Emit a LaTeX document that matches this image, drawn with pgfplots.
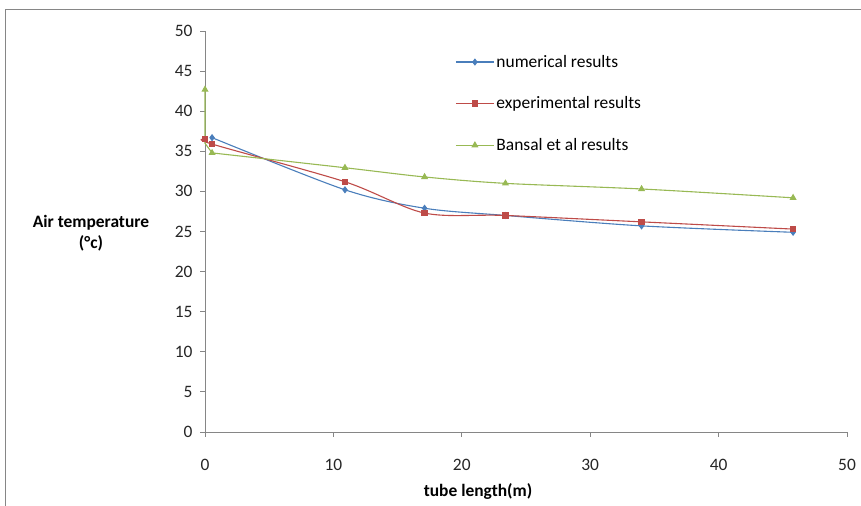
\documentclass[border=0pt]{standalone}
\usepackage{fontspec}
\setmainfont{Carlito}
\usepackage{pgfplots}
\pgfplotsset{compat=1.18}
\definecolor{cblue}{HTML}{4A7EBB}
\definecolor{cred}{HTML}{BE4B48}
\definecolor{cgreen}{HTML}{98B954}
\definecolor{cax}{HTML}{868686}
\begin{document}
\begin{tikzpicture}[x=1bp,y=1bp]
\useasboundingbox (0,0) rectangle (861,506);
\draw[cax,line width=1bp] (5,-20) -- (5,496) -- (880,496);
\begin{axis}[
  at={(205bp,74bp)}, anchor=south west,
  scale only axis, width=642bp, height=401bp,
  xmin=0, xmax=50, ymin=0, ymax=50,
  xtick={0,10,...,50}, ytick={0,5,...,50},
  axis x line*=bottom, axis y line*=left,
  axis line style={cax, line width=0.8bp, -},
  tick style={cax, line width=0.8bp},
  tick align=outside, major tick length=5bp,
  /pgf/number format/assume math mode=true,
  tick label style={font=\fontsize{17.5}{20}\selectfont, text=black!85},
  xticklabel style={yshift=-19bp},
  yticklabel style={xshift=-4bp},
  legend style={at={(0.385,0.95)}, anchor=north west, draw=none, fill=none,
    font=\fontsize{17.5}{20}\selectfont, row sep=24bp, cells={anchor=west}},
  legend image code/.code={
    \draw[#1] (0bp,0bp) -- (38bp,0bp);
    \draw[#1, only marks] plot coordinates {(19bp,0bp)};
  },
  every axis plot/.append style={line width=1.1bp},
  clip=false,
]
\addplot[cblue, mark=diamond*, mark size=2.8bp, smooth, tension=0.5] coordinates {
 (0.55,36.7) (10.9,30.2) (17.1,27.9) (23.4,27.0) (34.0,25.7) (45.8,24.9)};
\addlegendentry{numerical results}
\addplot[cred, mark=square*, mark size=2.6bp, smooth, tension=0.5] coordinates {
 (0,36.5) (0.55,35.9) (10.9,31.2) (17.1,27.3) (23.4,27.0) (34.0,26.2) (45.8,25.3)};
\addlegendentry{experimental results}
\addplot[cgreen, mark=triangle*, mark size=3bp, smooth, tension=0.5] coordinates {
 (0.55,34.8) (10.9,32.95) (17.1,31.8) (23.4,31.0) (34.0,30.3) (45.8,29.2)};
\addlegendentry{Bansal et al results}
\addplot[cgreen, mark=triangle*, mark size=3bp, mark indices={1}, forget plot] coordinates {
 (0,42.7) (0,36.0) (0.55,34.8)};
\end{axis}
\node[font=\bfseries\fontsize{17.5}{21}\selectfont, align=center] at (91,273) {Air temperature\\(°c)};
\node[font=\bfseries\fontsize{17.5}{20}\selectfont] at (478,14) {tube length(m)};
\end{tikzpicture}
\end{document}
